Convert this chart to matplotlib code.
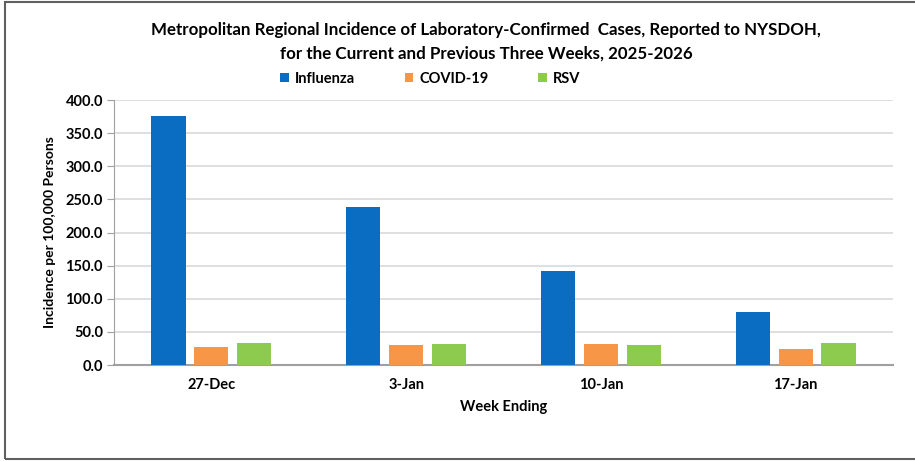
import matplotlib.pyplot as plt
import numpy as np
from matplotlib.patches import Rectangle

weeks = ["27-Dec", "3-Jan", "10-Jan", "17-Jan"]
influenza = [375.8, 238.3, 142.5, 80.6]
covid = [27.0, 29.8, 31.2, 24.2]
rsv = [32.7, 32.2, 29.7, 33.2]

plt.rcParams["font.family"] = ["Lato", "DejaVu Sans"]
plt.rcParams["font.weight"] = "bold"

fig = plt.figure(figsize=(9.15, 4.61), dpi=100)
ax = fig.add_axes([0.1246, 0.2082, 0.8514, 0.5748])

x = np.arange(len(weeks))
w = 0.175
step = 0.22
ax.bar(x - step, influenza, w, color="#0A6DC2", label="Influenza", zorder=3)
ax.bar(x, covid, w, color="#F79646", label="COVID-19", zorder=3)
ax.bar(x + step, rsv, w, color="#8DCB4F", label="RSV", zorder=3)

ax.set_xlim(-0.5, 3.5)
ax.set_ylim(0, 400)
ax.set_yticks(np.arange(0, 401, 50))
ax.set_yticklabels([f"{v:.1f}" for v in np.arange(0, 401, 50)], fontsize=10.5, fontweight="bold")
ax.set_xticks(x)
ax.set_xticklabels(weeks, fontsize=10.5, fontweight="bold")
ax.tick_params(axis="x", length=0, pad=9)
ax.tick_params(axis="y", length=5, color="#A0A0A0", pad=3)
ax.yaxis.grid(True, color="#D9D9D9", linewidth=1.2, zorder=0)
for s in ["top", "right"]:
    ax.spines[s].set_visible(False)
ax.spines["left"].set_color("#A0A0A0")
ax.spines["bottom"].set_color("#A0A0A0")
ax.spines["bottom"].set_linewidth(1.5)

ax.set_xlabel("Week Ending", fontsize=10.5, fontweight="bold", labelpad=6)
ax.set_ylabel("Incidence per 100,000 Persons", fontsize=10, fontweight="bold", labelpad=7)

fig.text(0.531, 0.935, "Metropolitan Regional Incidence of Laboratory-Confirmed  Cases, Reported to NYSDOH,",
         ha="center", va="center", fontsize=12.2, fontweight="bold")
fig.text(0.531, 0.884, "for the Current and Previous Three Weeks, 2025-2026",
         ha="center", va="center", fontsize=12.2, fontweight="bold")

fig.legend(loc="center", bbox_to_anchor=(0.47, 0.829), ncol=3, frameon=False,
           fontsize=10.5, handlelength=0.6, handleheight=0.6, handletextpad=0.4,
           columnspacing=3.4)

fig.patches.append(Rectangle((5 / 915, 2 / 461), 1.0, 457 / 461, transform=fig.transFigure,
                             fill=False, edgecolor="#606060", linewidth=1.5, figure=fig))

fig.savefig("out.png", dpi=100)
